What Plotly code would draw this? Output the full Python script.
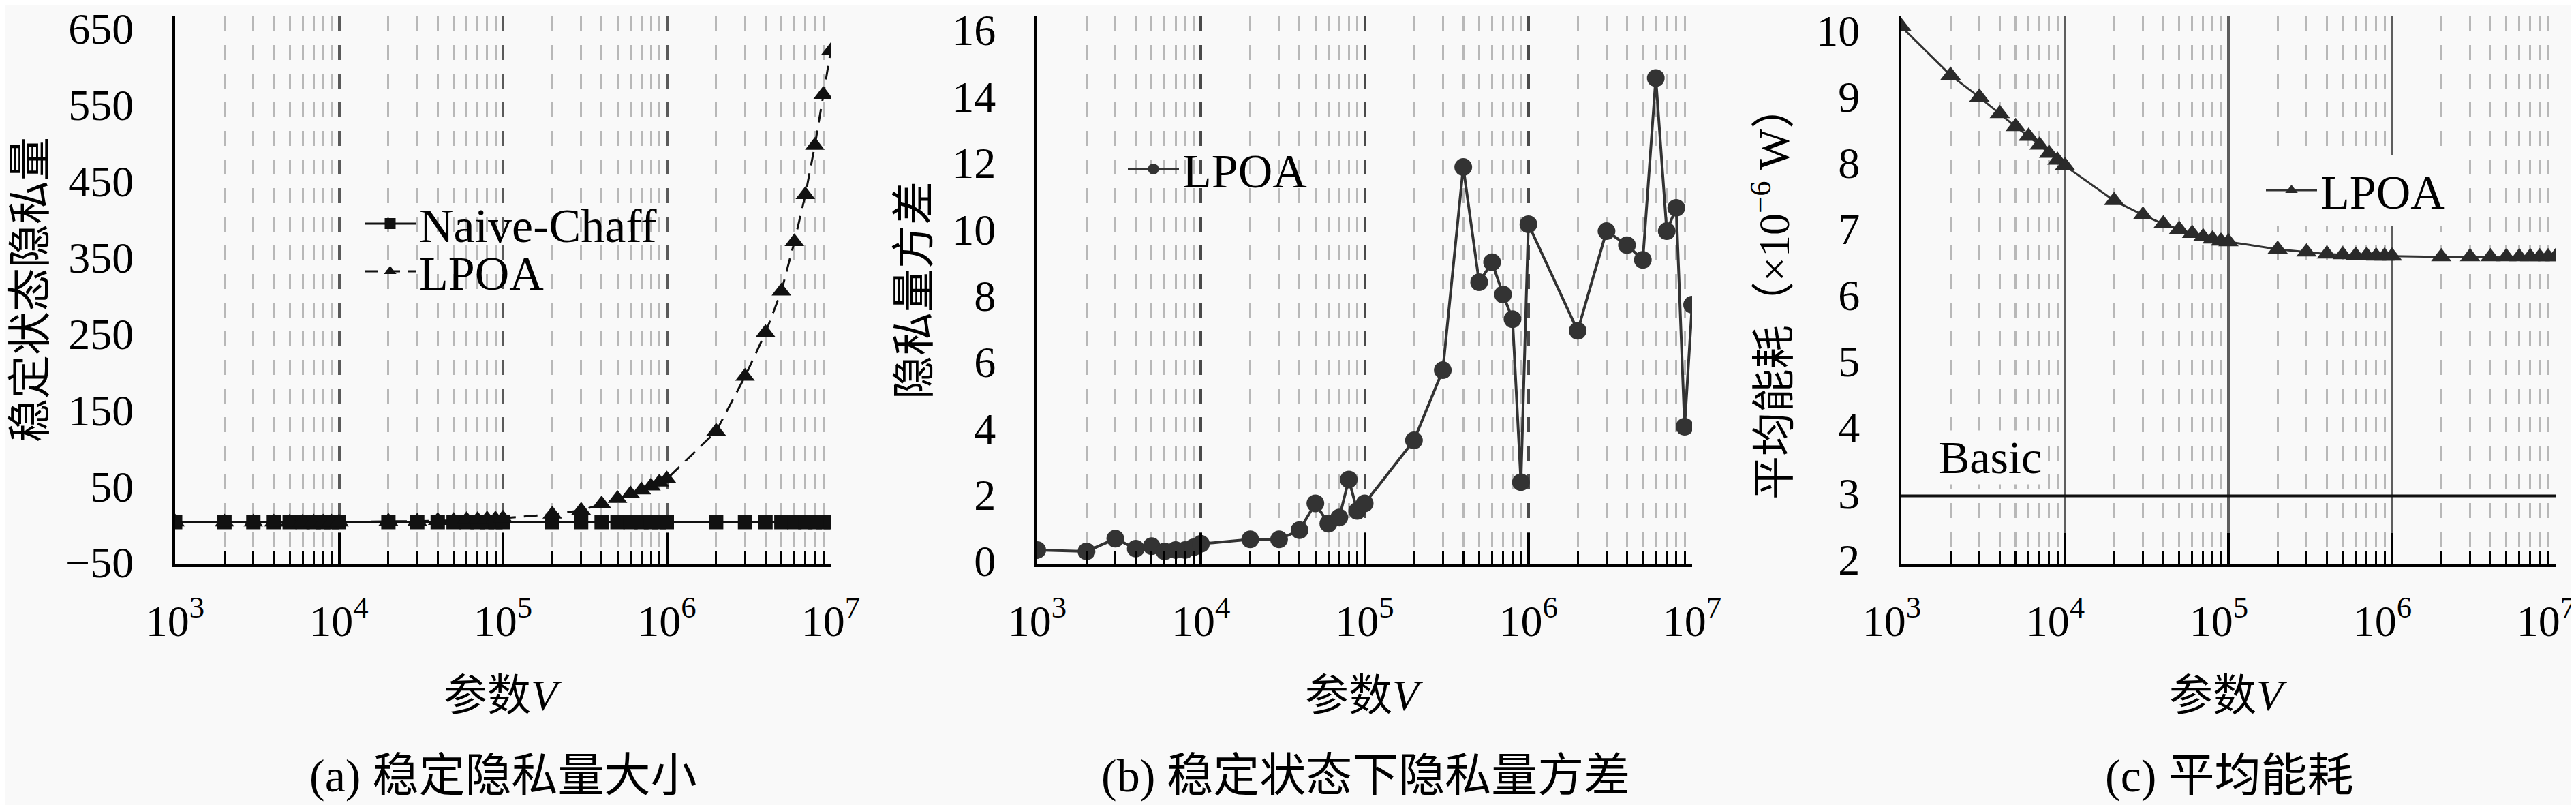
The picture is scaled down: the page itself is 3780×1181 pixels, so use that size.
"""Three-panel LPOA comparison: privacy size, privacy variance, energy."""

import plotly.graph_objects as go

# parameter V (shared x values of all series)
V_VALUES = [
    1e3, 2e3, 3e3, 4e3, 5e3, 6e3, 7e3, 8e3, 9e3,
    1e4, 2e4, 3e4, 4e4, 5e4, 6e4, 7e4, 8e4, 9e4,
    1e5, 2e5, 3e5, 4e5, 5e5, 6e5, 7e5, 8e5, 9e5,
    1e6, 2e6, 3e6, 4e6, 5e6, 6e6, 7e6, 8e6, 9e6,
    1e7,
]

# (a) steady-state privacy amount
PRIVACY_NAIVE = [
    4, 4, 4, 4, 4, 4, 4, 4, 4,
    4, 4, 4, 4, 4, 4, 4, 4, 4,
    4, 4, 4, 4, 4, 4, 4, 4, 4,
    4, 4, 4, 4, 4, 4, 4, 4, 4,
    4,
]
PRIVACY_LPOA = [
    4, 4, 4, 4, 4, 4, 4, 4, 4,
    4, 5, 5, 6, 6, 7, 7, 8, 8,
    9, 14, 19, 27, 34, 40, 45, 50, 55,
    59, 120, 190, 246, 299, 362, 422, 485, 550,
    606,
]

# (b) privacy variance in steady state
VARIANCE_LPOA = [
    0.42, 0.38, 0.75, 0.46, 0.53, 0.38, 0.42, 0.42, 0.50,
    0.60, 0.73, 0.73, 1.00, 1.78, 1.19, 1.37, 2.48, 1.56,
    1.78, 3.62, 5.67, 11.6, 8.24, 8.82, 7.88, 7.16, 2.40,
    9.93, 6.82, 9.73, 9.32, 8.89, 14.2, 9.73, 10.41, 4.02,
    7.58,
]

# (c) average energy consumption (x1e-6 W)
ENERGY_LPOA = [
    9.85, 9.14, 8.82, 8.58, 8.39, 8.25, 8.12, 8.00, 7.90,
    7.82, 7.31, 7.10, 6.97, 6.89, 6.83, 6.78, 6.75, 6.72,
    6.71, 6.60, 6.56, 6.53, 6.52, 6.51, 6.51, 6.50, 6.50,
    6.50, 6.49, 6.49, 6.49, 6.49, 6.49, 6.49, 6.49, 6.49,
    6.49,
]
BASIC_V = [1e3, 1e7]
BASIC_ENERGY = [3.0, 3.0]

DECADES = [1e3, 1e4, 1e5, 1e6, 1e7]
DECADE_LABELS = ["10<sup>3</sup>", "10<sup>4</sup>", "10<sup>5</sup>", "10<sup>6</sup>", "10<sup>7</sup>"]
Y_LABELS_A = [-50, 50, 150, 250, 350, 450, 550, 650]
Y_LABELS_B = [0, 2, 4, 6, 8, 10, 12, 14, 16]
Y_LABELS_C = [2, 3, 4, 5, 6, 7, 8, 9, 10]

W, H = 3780, 1181
BG = "#f9f9f9"
FONT = "Liberation Serif, Noto Sans CJK SC, serif"
GRID_DASH = "22px,20px"

# "lab" = pixel rows of the lowest/highest printed y label (slightly squeezed in the source)
PANELS = [
    {"dom": (249, 1211), "yr": (-50, 650), "dt": 100, "lab": (817, 34), "labels": Y_LABELS_A,
     "rmaj": 700 / 6, "rmin": 700 / 12, "gcol": "#5a5a5a", "gdash": GRID_DASH, "lt": 20,
     "xshift": 0},
    {"dom": (1514, 2475), "yr": (0, 16), "dt": 2, "lab": (815, 36), "labels": Y_LABELS_B,
     "rmaj": 2, "rmin": 1, "gcol": "#4a4a4a", "gdash": GRID_DASH, "lt": 18,
     "xshift": 0},
    {"dom": (2782, 3742), "yr": (2, 10), "dt": 1, "lab": (813, 37), "labels": Y_LABELS_C,
     "rmaj": 1, "rmin": 0.5, "gcol": "#5e5e5e", "gdash": "solid", "lt": 16,
     "xshift": -14},
]
Y_TOP, Y_BOTTOM = 16, 820


def px_x(x):
    return x / W


def px_y(y):
    return 1 - y / H


def label_positions(panel):
    """Axis values where the printed labels of a panel sit."""
    y0, y1 = panel["yr"]
    low, high = panel["lab"]
    out = []
    for v in panel["labels"]:
        row = low + (v - y0) / (y1 - y0) * (high - low)
        out.append(y0 + (Y_BOTTOM - row) / (Y_BOTTOM - Y_TOP) * (y1 - y0))
    return out


def label_text(v):
    return f"−{abs(v)}" if v < 0 else str(v)


minor_vals = [d * k for d in DECADES[:-1] for k in range(2, 10)]

fig = go.Figure()

# (a)
fig.add_trace(go.Scatter(
    x=V_VALUES, y=PRIVACY_NAIVE, name="Naive-Chaff", mode="lines+markers",
    line=dict(color="#111111", width=3),
    marker=dict(symbol="square", size=21, color="#111111"),
    xaxis="x", yaxis="y", legend="legend",
))
fig.add_trace(go.Scatter(
    x=V_VALUES, y=PRIVACY_LPOA, name="LPOA", mode="lines+markers",
    line=dict(color="#111111", width=3, dash="20px,12px"),
    marker=dict(symbol="triangle-up", size=25, color="#111111"),
    xaxis="x", yaxis="y", legend="legend2",
))
# (b)
fig.add_trace(go.Scatter(
    x=V_VALUES, y=VARIANCE_LPOA, name="LPOA", mode="lines+markers",
    line=dict(color="#333333", width=4),
    marker=dict(symbol="circle", size=26, color="#333333"),
    xaxis="x2", yaxis="y2", legend="legend3",
))
# (c)
fig.add_trace(go.Scatter(
    x=BASIC_V, y=BASIC_ENERGY, name="Basic", mode="lines",
    line=dict(color="#111111", width=4),
    xaxis="x3", yaxis="y3", showlegend=False,
))
fig.add_trace(go.Scatter(
    x=V_VALUES, y=ENERGY_LPOA, name="LPOA", mode="lines+markers",
    line=dict(color="#333333", width=3),
    marker=dict(symbol="triangle-up", size=26, color="#2a2a2a"),
    xaxis="x3", yaxis="y3", legend="legend4",
))

tick_font = dict(family=FONT, size=64, color="black")
layout = {}
for i, p in enumerate(PANELS):
    n = i + 1
    xs = "" if n == 1 else str(n)
    dom = [px_x(p["dom"][0]), px_x(p["dom"][1])]
    ydom = [px_y(Y_BOTTOM), px_y(Y_TOP)]
    common_x = dict(
        type="log", range=[3, 7], domain=dom, showline=True, linecolor="black", linewidth=4,
        ticks="inside", tickwidth=4, tickcolor="black", ticklen=46, automargin=False,
        tickmode="array", tickvals=DECADES, zeroline=False,
        minor=dict(tickmode="array", tickvals=minor_vals, ticks="inside", ticklen=19,
                   tickwidth=3, tickcolor="black"),
    )
    layout["xaxis" + xs] = dict(
        common_x, anchor="y" + xs, ticktext=DECADE_LABELS,
        tickfont=tick_font, ticklabelstandoff=24, ticklabeloverflow="allow",
        ticklabelshift=p["xshift"],
        showgrid=True, gridcolor=p["gcol"], gridwidth=4, griddash=p["gdash"],
        minor=dict(common_x["minor"], showgrid=True, gridcolor="#b8b8b8", gridwidth=3,
                   griddash=GRID_DASH),
    )
    layout["xaxis" + str(n + 3)] = dict(
        common_x, overlaying="x" + xs, side="top", anchor="y" + xs,
        showticklabels=False, showgrid=False,
    )
    # main left axis: frame line and printed labels
    layout["yaxis" + xs] = dict(
        range=list(p["yr"]), domain=ydom, anchor="x" + xs, showline=True, linecolor="black",
        linewidth=4, ticks="", showgrid=False, zeroline=False, automargin=False,
        tickmode="array", tickvals=label_positions(p),
        ticktext=[label_text(v) for v in p["labels"]],
        tickfont=tick_font, ticklabelstandoff=44, ticklabeloverflow="allow",
    )
    # right frame with long/short inside ticks
    layout["yaxis" + str(n + 3)] = dict(
        range=list(p["yr"]), overlaying="y" + xs, side="right", anchor="x" + xs,
        showline=True, linecolor="black", linewidth=4, ticks="inside", tickwidth=4,
        tickcolor="black", ticklen=42, tick0=p["yr"][0], dtick=p["rmaj"],
        showticklabels=False, showgrid=False, zeroline=False, automargin=False,
        minor=dict(ticks="inside", ticklen=18, tickwidth=4, tickcolor="black",
                   tick0=p["yr"][0], dtick=p["rmin"]),
    )
    # left inside ticks at the true values
    layout["yaxis" + str(n + 6)] = dict(
        range=list(p["yr"]), overlaying="y" + xs, side="left", anchor="x" + xs,
        showline=False, ticks="inside", tickwidth=4, tickcolor="black", ticklen=p["lt"],
        tick0=p["yr"][0], dtick=p["dt"], showticklabels=False, showgrid=False,
        zeroline=False, automargin=False,
    )

legend_font = dict(family=FONT, size=70, color="black")
legend_common = dict(font=legend_font, bgcolor="rgba(0,0,0,0)", borderwidth=0,
                     xanchor="left", yanchor="middle", itemwidth=75)
layout["legend"] = dict(legend_common, x=px_x(522), y=px_y(320))
layout["legend2"] = dict(legend_common, x=px_x(522), y=px_y(390))
layout["legend3"] = dict(legend_common, x=px_x(1642), y=px_y(240))
layout["legend4"] = dict(legend_common, x=px_x(3312), y=px_y(271), bgcolor=BG)


def note(cx, cy, text, size, angle=0, bg=None):
    item = dict(x=px_x(cx), y=px_y(cy), text=text, showarrow=False, xref="paper",
                yref="paper", xanchor="center", yanchor="middle", textangle=angle,
                font=dict(family=FONT, size=size, color="black"))
    if bg:
        item["bgcolor"] = bg
    return item


annotations = []
for cx in (730, 1994, 3262):
    annotations.append(note(cx, 1012, "参数<i>V</i>", 64))
for cx, label in [(730, "(a) 稳定隐私量大小"), (1996, "(b) 稳定状态下隐私量方差"),
                  (3263, "(c) 平均能耗")]:
    annotations.append(note(cx, 1130, label, 68))
for cx, cy, label in [(37, 417, "稳定状态隐私量"), (1333, 418, "隐私量方差"),
                      (2590, 421, "平均能耗（×10<sup>−6</sup> W）")]:
    annotations.append(note(cx, cy, label, 64, angle=-90))
annotations.append(note(2912, 663, "Basic", 68, bg=BG))

fig.update_layout(
    width=W, height=H, margin=dict(l=0, r=0, t=0, b=0),
    paper_bgcolor=BG, plot_bgcolor=BG, annotations=annotations, **layout,
)

fig.write_html("out.html")
